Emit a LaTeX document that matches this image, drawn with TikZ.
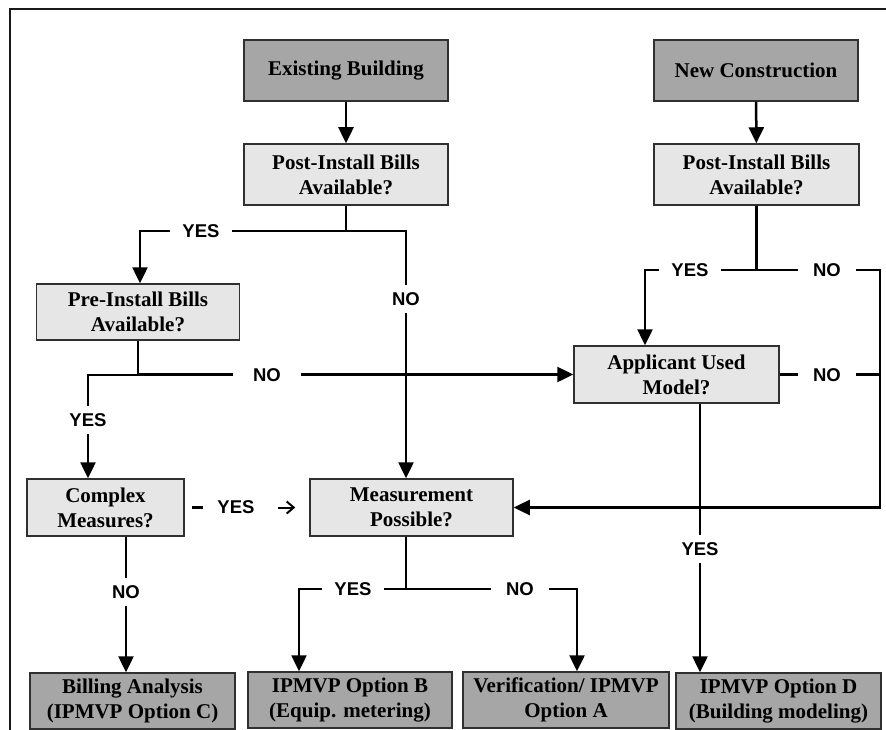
\documentclass[tikz,border=0pt]{standalone}
\usepackage{fontspec}
\setmainfont{Liberation Serif}
\newfontfamily\lblfont{Liberation Sans}
\usetikzlibrary{arrows.meta}
\definecolor{darkfill}{HTML}{A6A6A6}
\definecolor{lightfill}{HTML}{E6E6E6}
\definecolor{edgecol}{HTML}{303030}
\tikzset{
  box/.style={draw=edgecol, line width=1.5pt, align=center, inner sep=0pt,
    font=\fontsize{21}{25}\selectfont\bfseries},
  dbox/.style={box, fill=darkfill},
  lbox/.style={box, fill=lightfill},
  ln/.style={line width=2.5pt, draw=black},
  arr/.style={ln, -{Triangle[width=15pt,length=16pt]}},
  thinarr/.style={line width=2pt, -{Straight Barb[width=12pt,length=7pt,line width=2pt]}},
  lbl/.style={font=\lblfont\fontsize{18.5}{20}\selectfont\bfseries, fill=white, inner xsep=12pt, inner ysep=7pt},
  frame/.style={line width=2pt, draw=black!90}
}
\begin{document}
\begin{tikzpicture}[x=1pt,y=-1pt]
\useasboundingbox (0,0) rectangle (886,730);
\draw[frame] (10,730) -- (10,9) -- (886,9);

% boxes
\node[dbox, minimum width=204pt, minimum height=61pt] (eb) at (346,70.5) {Existing Building};
\node[lbox, minimum width=204pt, minimum height=61pt] (pl) at (346,174.5) {Post-Install Bills\\Available?};
\node[dbox, minimum width=204pt, minimum height=61pt] (nc) at (756,70.5) {New Construction};
\node[lbox, minimum width=205pt, minimum height=61pt] (pr) at (756.5,174.5) {Post-Install Bills\\Available?};
\node[lbox, minimum width=203pt, minimum height=56pt] (pre) at (138,312) {Pre-Install Bills\\Available?};
\node[lbox, minimum width=205pt, minimum height=57pt] (app) at (676.5,374.5) {Applicant Used\\Model?};
\node[lbox, minimum width=157pt, minimum height=57pt] (cm) at (105.5,507.5) {Complex\\Measures?};
\node[lbox, minimum width=203pt, minimum height=57pt] (mp) at (411.5,507.5) {Measurement\\Possible?};
\node[dbox, minimum width=205pt, minimum height=56pt] (ba) at (132.5,701) {Billing Analysis\\(IPMVP Option C)};
\node[dbox, minimum width=204pt, minimum height=56pt] (ob) at (350,700) {IPMVP Option B\\(Equip. metering)};
\node[dbox, minimum width=206pt, minimum height=56pt] (va) at (566,700) {Verification/ IPMVP\\Option A};
\node[dbox, minimum width=205pt, minimum height=56pt] (od) at (778.5,701) {IPMVP Option D\\(Building modeling)};

% junction coordinates
\coordinate (jAL) at (140,231);
\coordinate (jAR) at (406,231);
\coordinate (jBL) at (88,375);
\coordinate (jCL) at (645,270);
\coordinate (jCR) at (880,270);
\coordinate (jD) at (700,0);
\coordinate (jE) at (126,0);
\coordinate (jFL) at (299,589);
\coordinate (jFR) at (577,589);

% connectors
\draw[arr] (eb) -- (pl);
\draw[arr] (nc) -- (pr);
\draw[arr] (pl.south) |- (jAL) -- (jAL |- pre.north);
\draw[arr] (pl.south) |- (jAR) -- (jAR |- mp.north);
\draw[arr] (pre.south) |- (jBL) -- (jBL |- cm.north);
\draw[arr] (pre.south) |- (app.west);
\draw[arr] (pr.south) |- (jCL) -- (jCL |- app.north);
\draw[arr] (pr.south) |- (jCR) |- (mp.east);
\draw[ln] (app.east) -- (jCR |- app.east);
\draw[arr] (jD |- app.south) -- (jD |- od.north);
\draw[ln] ([xshift=7pt]cm.east) -- ([xshift=18pt]cm.east);
\draw[thinarr] ([xshift=-31pt]mp.west) -- ([xshift=-14pt]mp.west);
\draw[arr] (jE |- cm.south) -- (jE |- ba.north);
\draw[arr] (jAR |- mp.south) |- (jFL) -- (jFL |- ob.north);
\draw[arr] (jAR |- mp.south) |- (jFR) -- (jFR |- va.north);

% labels
\node[lbl] (l1) at (201,231) {YES};
\node[lbl] (l2) at (406,299) {NO};
\node[lbl, inner xsep=20pt] (l3) at (267,375) {NO};
\node[lbl] (l4) at (88,420) {YES};
\node[lbl] (l5) at (690,270) {YES};
\node[lbl, inner xsep=15pt] (l6) at (827,270) {NO};
\node[lbl, inner xsep=15pt] (l7) at (827,375) {NO};
\node[lbl, fill=none] (l8) at (236,507) {YES};
\node[lbl] (l9) at (126,592) {NO};
\node[lbl] (l10) at (353,589) {YES};
\node[lbl, inner xsep=15pt] (l11) at (520,589) {NO};
\node[lbl] (l12) at (700,549) {YES};
\end{tikzpicture}
\end{document}
